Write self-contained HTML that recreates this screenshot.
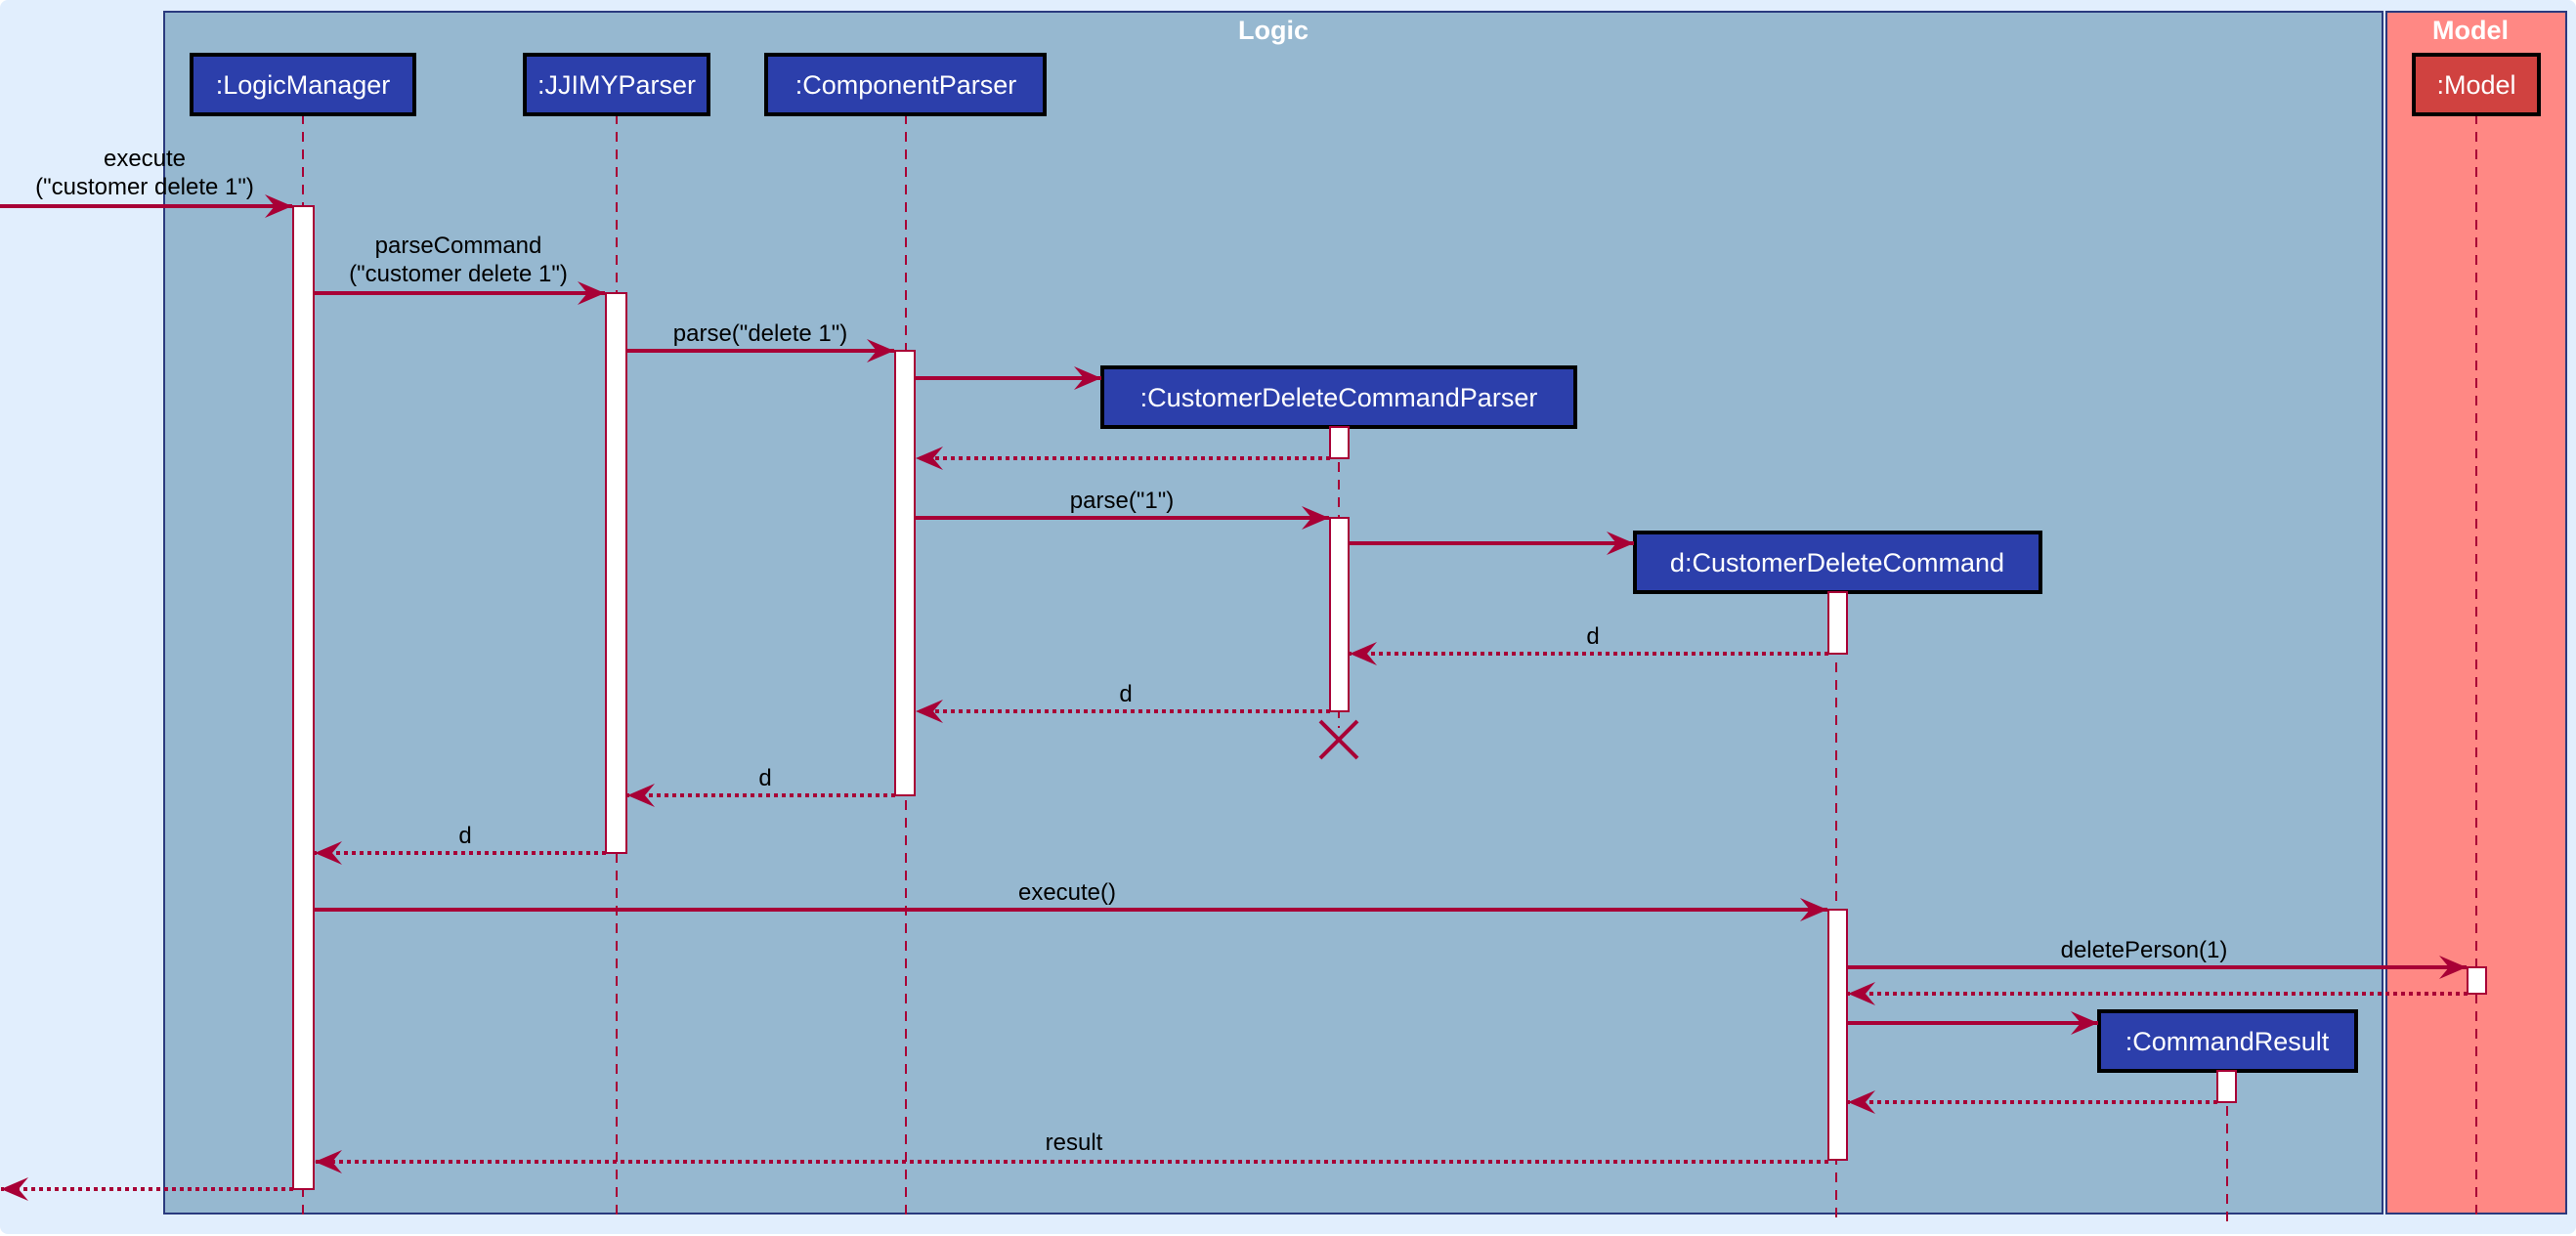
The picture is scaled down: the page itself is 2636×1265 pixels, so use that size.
<!DOCTYPE html>
<html><head><meta charset="utf-8"><style>
html,body{margin:0;padding:0;background:#fff;}
svg{display:block;}
text{font-family:"Liberation Sans",sans-serif;}
</style></head><body>
<svg width="2636" height="1265" viewBox="0 0 2636 1265" xmlns="http://www.w3.org/2000/svg">
<defs>
<marker id="ah" markerWidth="30" markerHeight="24" refX="28" refY="12" orient="auto" markerUnits="userSpaceOnUse">
<path d="M28,12 L0,0 L10,12 L0,24 Z" fill="#a80036"/>
</marker>
</defs>
<rect x="0" y="0" width="2636" height="1263" rx="8" fill="#e1eefd"/>
<!-- frames -->
<rect x="168" y="12" width="2270" height="1230" fill="#96b8d0" stroke="#2a3a7e" stroke-width="2"/>
<text x="1303" y="40" font-size="27" font-weight="bold" fill="#fff" text-anchor="middle">Logic</text>
<rect x="2442" y="12" width="184" height="1230" fill="#ff8884" stroke="#2a3a7e" stroke-width="2"/>
<text x="2528" y="40" font-size="27" font-weight="bold" fill="#fff" text-anchor="middle">Model</text>

<!-- lifelines -->
<g stroke="#a80036" stroke-width="2" stroke-dasharray="10,8">
<line x1="310" y1="117" x2="310" y2="1250"/>
<line x1="631" y1="117" x2="631" y2="1250"/>
<line x1="927" y1="117" x2="927" y2="1250"/>
<line x1="1370" y1="437" x2="1370" y2="745"/>
<line x1="1879" y1="606" x2="1879" y2="1250"/>
<line x1="2279" y1="1096" x2="2279" y2="1250"/>
<line x1="2534" y1="117" x2="2534" y2="1250"/>
</g>

<!-- participants -->
<g stroke="#000" stroke-width="4" fill="#2c3fab">
<rect x="196" y="56" width="228" height="61"/>
<rect x="537" y="56" width="188" height="61"/>
<rect x="784" y="56" width="285" height="61"/>
<rect x="1128" y="376" width="484" height="61"/>
<rect x="1673" y="545" width="415" height="61"/>
<rect x="2148" y="1035" width="263" height="61"/>
<rect x="2470" y="56" width="128" height="61" fill="#d04240"/>
</g>
<g font-size="27" fill="#fff" text-anchor="middle">
<text x="310" y="96">:LogicManager</text>
<text x="631" y="96">:JJIMYParser</text>
<text x="927" y="96">:ComponentParser</text>
<text x="1370" y="416">:CustomerDeleteCommandParser</text>
<text x="1880" y="585">d:CustomerDeleteCommand</text>
<text x="2279" y="1075">:CommandResult</text>
<text x="2534" y="96">:Model</text>
</g>

<!-- activations -->
<g fill="#fff" stroke="#a80036" stroke-width="2">
<rect x="300" y="211" width="21" height="1006"/>
<rect x="620" y="300" width="21" height="573"/>
<rect x="916" y="359" width="20" height="455"/>
<rect x="1361" y="437" width="19" height="32"/>
<rect x="1361" y="530" width="19" height="198"/>
<rect x="1871" y="606" width="19" height="63"/>
<rect x="1871" y="931" width="19" height="256"/>
<rect x="2525" y="990" width="19" height="27"/>
<rect x="2269" y="1096" width="19" height="32"/>
</g>

<!-- solid arrows -->
<g stroke="#a80036" stroke-width="4" marker-end="url(#ah)">
<line x1="0" y1="211" x2="299" y2="211"/>
<line x1="321" y1="300" x2="619" y2="300"/>
<line x1="641" y1="359" x2="915" y2="359"/>
<line x1="936" y1="387" x2="1127" y2="387"/>
<line x1="936" y1="530" x2="1360" y2="530"/>
<line x1="1380" y1="556" x2="1672" y2="556"/>
<line x1="321" y1="931" x2="1870" y2="931"/>
<line x1="1890" y1="990" x2="2524" y2="990"/>
<line x1="1890" y1="1047" x2="2147" y2="1047"/>
</g>
<!-- dotted returns -->
<g stroke="#a80036" stroke-width="4" stroke-dasharray="4,4" marker-end="url(#ah)">
<line x1="1361" y1="469" x2="937" y2="469"/>
<line x1="1871" y1="669" x2="1381" y2="669"/>
<line x1="1361" y1="728" x2="937" y2="728"/>
<line x1="916" y1="814" x2="642" y2="814"/>
<line x1="620" y1="873" x2="322" y2="873"/>
<line x1="2525" y1="1017" x2="1891" y2="1017"/>
<line x1="2269" y1="1128" x2="1891" y2="1128"/>
<line x1="1871" y1="1189" x2="322" y2="1189"/>
<line x1="300" y1="1217" x2="1" y2="1217"/>
</g>
<!-- destroy X -->
<g stroke="#a80036" stroke-width="4">
<line x1="1351" y1="738" x2="1389" y2="776"/>
<line x1="1389" y1="738" x2="1351" y2="776"/>
</g>

<!-- labels -->
<g font-size="24" fill="#000" text-anchor="middle">
<text x="148" y="170">execute</text>
<text x="148" y="199">("customer delete 1")</text>
<text x="469" y="259">parseCommand</text>
<text x="469" y="288">("customer delete 1")</text>
<text x="778" y="349">parse("delete 1")</text>
<text x="1148" y="520">parse("1")</text>
<text x="1630" y="659">d</text>
<text x="1152" y="718">d</text>
<text x="783" y="804">d</text>
<text x="476" y="863">d</text>
<text x="1092" y="921">execute()</text>
<text x="2194" y="980">deletePerson(1)</text>
<text x="1099" y="1177">result</text>
</g>
</svg>
</body></html>
